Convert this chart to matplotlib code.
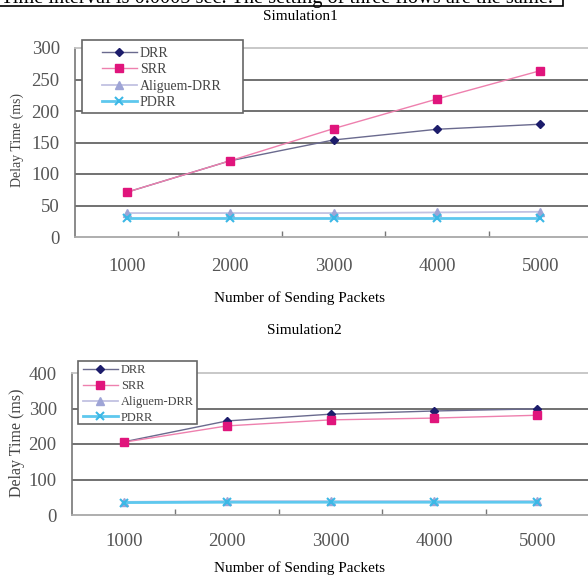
import numpy as np
import matplotlib
matplotlib.use("Agg")
import matplotlib.pyplot as plt
from matplotlib.patches import Rectangle

plt.rcParams['font.family'] = ['Liberation Serif', 'DejaVu Serif']

# data
packets = ['1000', '2000', '3000', '4000', '5000']
series = ['DRR', 'SRR', 'Aliguem-DRR', 'PDRR']

sim1_drr = [71, 121, 154, 171, 179]
sim1_srr = [71, 121, 172, 219, 264]
sim1_alig = [38, 38, 38, 39, 40]
sim1_pdrr = [30, 30, 30, 30, 30]

sim2_drr = [206, 265, 284, 293, 299]
sim2_srr = [205, 251, 268, 273, 281]
sim2_alig = [37, 39, 39, 39, 39]
sim2_pdrr = [35, 36, 36, 36, 36]

sim1_yticks = [0, 50, 100, 150, 200, 250, 300]
sim2_yticks = [0, 100, 200, 300, 400]

top_note = "Time interval is 0.0005 sec. The setting of three flows are the same."

W, H = 588, 585
styles = {
    'DRR': dict(color='#6a6a8e', marker='D', mfc='#1c1c6b', mec='#1c1c6b', ms=4.5, lw=1.0),
    'SRR': dict(color='#ee80ae', marker='s', mfc='#e0157c', mec='#e0157c', ms=5.5, lw=1.0),
    'Aliguem-DRR': dict(color='#c2c2e2', marker='^', mfc='#9ea4d6', mec='#9ea4d6', ms=6, lw=1.3),
    'PDRR': dict(color='#5ec8ee', marker='x', mfc='#3cb8e6', mec='#3cb8e6', ms=6, mew=1.5, lw=2.0),
}


def fx(px):
    return px / W


def fy(py):
    return 1 - py / H


fig = plt.figure(figsize=(W / 100, H / 100), dpi=100)


def draw_panel(box, data, yticks, title, title_xy, xlabel_y, ylabel_xy,
               leg_box, leg_anchor, leg_fs, leg_hl, leg_ls, tick_pad, ylab_fs):
    left, top, right, bottom = box
    ax = fig.add_axes([fx(left), fy(bottom), fx(right) - fx(left), fy(top) - fy(bottom)])
    x = np.arange(len(packets))
    handles = []
    for name, vals in zip(series, data):
        h, = ax.plot(x, vals, label=name, zorder=3, **styles[name])
        handles.append(h)
    ax.set_xlim(-0.5, len(packets) - 0.5)
    ax.set_ylim(yticks[0], yticks[-1])
    for v in yticks[1:-1]:
        ax.axhline(v, color='#666666', lw=1.3, zorder=1)
    ax.spines['right'].set_visible(False)
    ax.spines['top'].set_color('#c4c4c4')
    ax.spines['top'].set_linewidth(1.3)
    ax.spines['bottom'].set_color('#a8a8a8')
    ax.spines['bottom'].set_linewidth(1.3)
    ax.spines['left'].set_color('#777777')
    ax.spines['left'].set_linewidth(1.2)
    ax.set_yticks(yticks)
    ax.set_yticklabels([str(v) for v in yticks], fontsize=13.5, color='#555555')
    ax.tick_params(axis='y', length=0, pad=11)
    ax.set_xticks(x)
    ax.set_xticklabels(packets, fontsize=13.5, color='#555555')
    ax.tick_params(axis='x', which='major', length=0, pad=tick_pad)
    ax.set_xticks(x[:-1] + 0.5, minor=True)
    ax.tick_params(axis='x', which='minor', direction='in', length=4, width=1, color='#777777')

    fig.text(fx(title_xy[0]), fy(title_xy[1]), title, ha='center', va='center', fontsize=11)
    fig.text(fx(300), fy(xlabel_y), 'Number of Sending Packets', ha='center', va='center', fontsize=11)
    fig.text(fx(ylabel_xy[0]), fy(ylabel_xy[1]), 'Delay Time (ms)', rotation=90,
             ha='center', va='center', fontsize=ylab_fs, color='#444444')

    # legend box
    lx0, ly0, lx1, ly1 = leg_box
    ax.add_patch(Rectangle((fx(lx0), fy(ly1)), fx(lx1) - fx(lx0), fy(ly0) - fy(ly1),
                           transform=fig.transFigure, facecolor='white', edgecolor='#666666',
                           lw=1.2, zorder=5, clip_on=False))
    leg = ax.legend(handles=handles, loc='upper left', frameon=False,
                    bbox_to_anchor=(fx(leg_anchor[0]), fy(leg_anchor[1])),
                    bbox_transform=fig.transFigure,
                    fontsize=leg_fs, labelspacing=leg_ls, handlelength=leg_hl, handletextpad=0.25,
                    borderpad=0.2, borderaxespad=0)
    leg.set_zorder(6)
    for t in leg.get_texts():
        t.set_color('#444444')
    return ax


draw_panel((75, 48, 592, 237), [sim1_drr, sim1_srr, sim1_alig, sim1_pdrr], sim1_yticks,
           'Simulation1', (300, 16), 298, (17, 140), (82, 40, 243, 113), (99, 44),
           10.0, 2.5, 0.25, 15, 10)
draw_panel((72, 373, 589, 515), [sim2_drr, sim2_srr, sim2_alig, sim2_pdrr], sim2_yticks,
           'Simulation2', (304, 331), 568, (17, 443), (78, 361, 197, 424), (80.5, 362),
           8.9, 2.8, 0.3, 13, 11.5)

# clipped caption line at the very top
fig.text(fx(1), fy(2.5), top_note, ha='left', va='baseline', fontsize=14.7)
fig.add_artist(Rectangle((fx(-5), fy(6)), fx(568), fy(-20) - fy(6),
                         transform=fig.transFigure, facecolor='none', edgecolor='black', lw=1.2))

fig.savefig('out.png', dpi=100)
